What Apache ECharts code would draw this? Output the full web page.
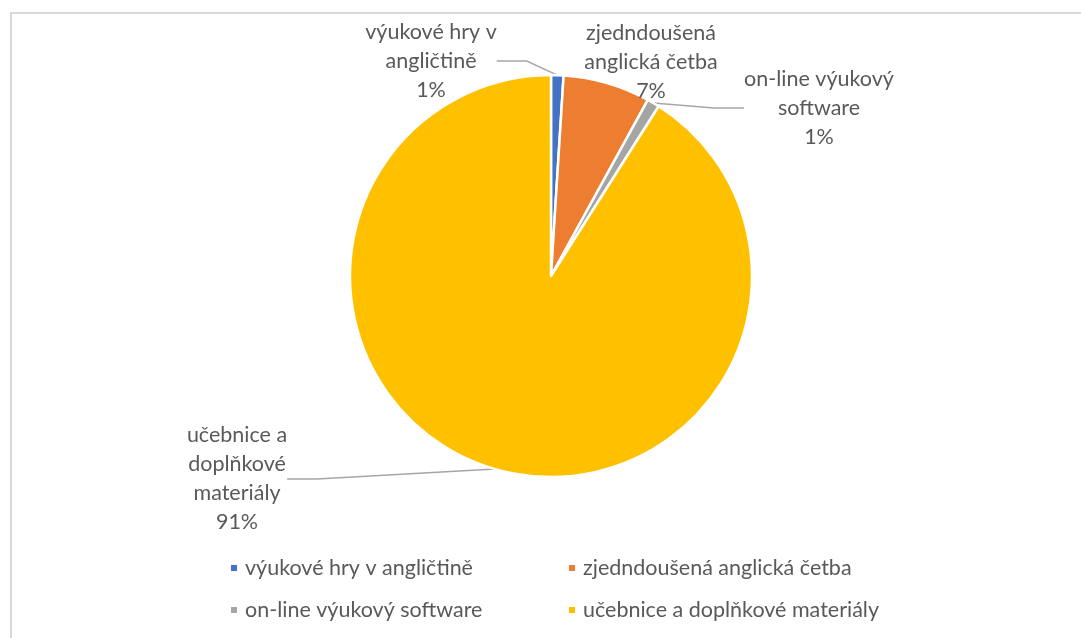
<!DOCTYPE html>
<html>
<head>
<meta charset="utf-8">
<script src="https://cdn.jsdelivr.net/npm/echarts@6/dist/echarts.min.js"></script>
<style>
  html, body { margin: 0; padding: 0; background: #ffffff; }
  #chart { width: 1081px; height: 638px; }
</style>
</head>
<body>
<div id="chart"></div>
<script>
// Learning materials used, share in percent
const categories = [
  'výukové hry v angličtině',
  'zjednodušená anglická četba',
  'on-line výukový software',
  'učebnice a doplňkové materiály'
];
// Wrapped names shown next to the slices
const sliceLabels = [
  'výukové hry v\nangličtině',
  'zjedndoušená\nanglická četba',
  'on-line výukový\nsoftware',
  'učebnice a\ndoplňkové\nmateriály'
];
const legendNames = [
  'výukové hry v angličtině',
  'zjedndoušená anglická četba',
  'on-line výukový software',
  'učebnice a doplňkové materiály'
];
const values = [1, 7, 1, 91];

const colors = ['#4472C4', '#ED7D31', '#A5A5A5', '#FFC000'];
const textColor = '#595959';
const font = 'Lato, "Open Sans", sans-serif';
const fontSize = 21.5;

// Where each slice label sits (label centre, px)
const labelSpots = [
  { x: 431, y: 61 },
  { x: 651, y: 62 },
  { x: 819, y: 108 },
  { x: 237, y: 479 }
];

const data = values.map((v, i) => ({
  name: legendNames[i],
  value: v,
  itemStyle: { color: colors[i] },
  label: { formatter: sliceLabels[i] + '\n{d}%' },
  labelLine: { show: i !== 1 }
}));

const chart = echarts.init(document.getElementById('chart'), null, { renderer: 'canvas' });

const legendBase = {
  orient: 'vertical',
  icon: 'rect',
  itemWidth: 8,
  itemHeight: 8,
  itemGap: 20,
  selectedMode: false,
  textStyle: { color: textColor, fontSize: fontSize, fontFamily: font, padding: [0, 0, 0, 2] }
};

chart.setOption({
  animation: false,
  backgroundColor: '#ffffff',
  graphic: [{
    type: 'rect',
    shape: { x: 11, y: 13, width: 1090, height: 660 },
    style: { fill: 'none', stroke: '#d9d9d9', lineWidth: 2 },
    silent: true
  }],
  legend: [
    Object.assign({}, legendBase, { left: 224, top: 552, data: [legendNames[0], legendNames[2]] }),
    Object.assign({}, legendBase, { left: 562, top: 552, data: [legendNames[1], legendNames[3]] })
  ],
  series: [{
    type: 'pie',
    center: [551, 276],
    radius: [0, 201],
    startAngle: 90,
    clockwise: true,
    avoidLabelOverlap: false,
    itemStyle: { borderColor: '#ffffff', borderWidth: 2.5 },
    label: {
      show: true,
      position: 'outside',
      color: textColor,
      fontSize: fontSize,
      fontFamily: font,
      lineHeight: 29,
      align: 'center'
    },
    labelLine: {
      show: true,
      lineStyle: { color: '#a6a6a6', width: 1.5 }
    },
    labelLayout: function (params) {
      const p = labelSpots[params.dataIndex];
      return { x: p.x, y: p.y, align: 'center', verticalAlign: 'middle' };
    },
    emphasis: { disabled: true },
    data: data
  }]
});
</script>
</body>
</html>
